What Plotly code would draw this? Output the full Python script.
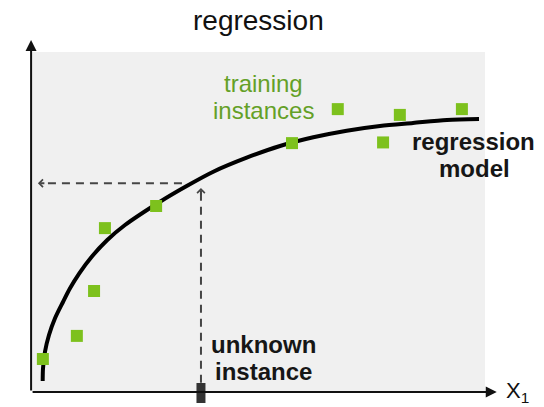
import plotly.graph_objects as go

# training instances
train_x = [0.24, 0.99, 1.37, 1.61, 2.74, 5.74, 6.75, 7.75, 8.12, 9.49]
train_y = [0.97, 1.65, 2.97, 4.82, 5.47, 7.32, 8.32, 7.34, 8.15, 8.32]

# regression model curve
model_x = [0.236, 0.243, 0.287, 0.375, 0.508, 0.684, 0.839, 1.044, 1.318, 1.662, 2.053,
           2.826, 3.415, 4.002, 4.740, 5.475, 6.210, 6.947, 7.682, 8.411, 9.161, 9.868]
model_y = [0.324, 0.697, 1.185, 1.676, 2.168, 2.647, 3.050, 3.491, 3.979, 4.471, 4.912,
           5.597, 6.059, 6.479, 6.891, 7.235, 7.491, 7.685, 7.824, 7.912, 8.000, 8.029]

# unknown instance and its prediction
unknown_x = 3.73
predicted_y = 6.14

FONT = "Liberation Sans, Arial, Helvetica, sans-serif"
GREEN = "#7dc11d"
GREEN_TXT = "#64a027"
DASH = "#454545"

fig = go.Figure()

# gray panel
fig.add_shape(type="rect", xref="x", yref="y", x0=0, x1=10, y0=0, y1=10,
              fillcolor="#f0f0f0", line=dict(width=0), layer="below")

fig.add_trace(go.Scatter(
    x=[unknown_x, unknown_x], y=[0.27, 5.85], mode="lines",
    line=dict(color=DASH, width=2, dash="8px,6px"), hoverinfo="skip"))
fig.add_trace(go.Scatter(
    x=[3.31, 0.28], y=[predicted_y, predicted_y], mode="lines",
    line=dict(color=DASH, width=2, dash="8px,6px"), hoverinfo="skip"))

fig.add_trace(go.Scatter(
    x=model_x, y=model_y, mode="lines",
    line=dict(color="black", width=4, shape="spline", smoothing=0.8),
    hoverinfo="skip"))

fig.add_trace(go.Scatter(
    x=train_x, y=train_y, mode="markers",
    marker=dict(symbol="square", size=12, color=GREEN, line=dict(width=0)),
    hoverinfo="skip"))

annotations = []
# axes arrows
annotations.append(dict(x=10.26, y=0, ax=-0.02, ay=0, xref="x", yref="y", axref="x", ayref="y",
                        text="", showarrow=True, arrowhead=2, arrowsize=1.1, arrowwidth=2,
                        arrowcolor="#111111"))
annotations.append(dict(x=-0.02, y=10.35, ax=-0.02, ay=0, xref="x", yref="y", axref="x", ayref="y",
                        text="", showarrow=True, arrowhead=2, arrowsize=1.1, arrowwidth=2,
                        arrowcolor="#111111"))
# dashed arrow heads
annotations.append(dict(x=0.13, y=predicted_y, ax=8, ay=0, xref="x", yref="y",
                        text="", showarrow=True, arrowhead=4, arrowsize=0.75, arrowwidth=2,
                        arrowcolor=DASH))
annotations.append(dict(x=unknown_x, y=6.0, ax=0, ay=8, xref="x", yref="y",
                        text="", showarrow=True, arrowhead=4, arrowsize=0.75, arrowwidth=2,
                        arrowcolor=DASH))

def label(txt, x, y, size, color, bold=False, xanchor="center"):
    t = f"<b>{txt}</b>" if bold else txt
    annotations.append(dict(x=x, y=y, xref="x", yref="y", text=t, showarrow=False,
                            xanchor=xanchor, yanchor="middle",
                            font=dict(family=FONT, size=size, color=color)))

label("regression", 4.99, 10.93, 28, "#111111")
label("training", 5.11, 9.07, 24, GREEN_TXT)
label("instances", 5.11, 8.27, 24, GREEN_TXT)
label("regression", 9.75, 7.36, 24, "#161616", bold=True)
label("model", 9.76, 6.58, 24, "#161616", bold=True)
label("unknown", 5.11, 1.39, 24, "#161616", bold=True)
label("instance", 5.10, 0.60, 24, "#161616", bold=True)
label("X<sub>1</sub>", 10.42, -0.01, 22, "#111111", xanchor="left")

fig.update_layout(annotations=annotations)

fig.add_shape(type="line", xref="x", yref="y", x0=unknown_x, x1=unknown_x,
              ysizemode="pixel", yanchor=0, y0=-11, y1=9,
              line=dict(color="#333333", width=9))

fig.update_layout(
    width=544, height=407, autosize=False,
    margin=dict(l=0, r=0, t=0, b=0),
    paper_bgcolor="white", plot_bgcolor="white",
    showlegend=False,
    xaxis=dict(range=[-32 / 45.3, 512 / 45.3], visible=False, fixedrange=True),
    yaxis=dict(range=[-15 / 34, 392 / 34], visible=False, fixedrange=True),
    font=dict(family=FONT),
)

fig.write_html("out.html", config={"displayModeBar": False},
               post_script="document.body.style.margin='0';document.body.style.padding='0';")
